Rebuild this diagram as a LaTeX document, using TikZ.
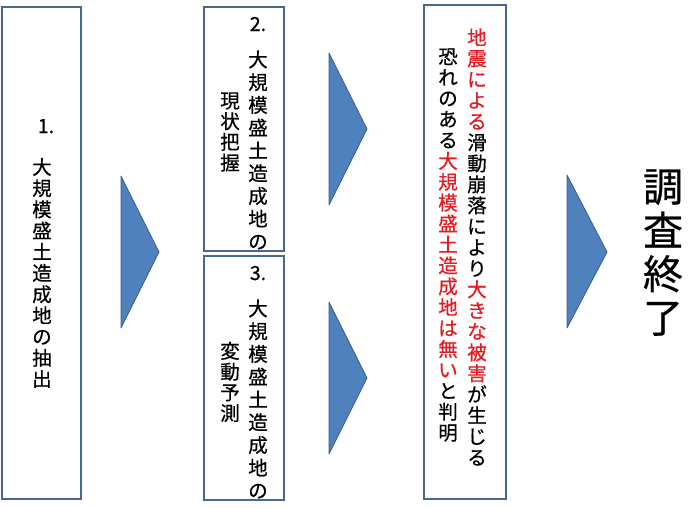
\documentclass[tikz,border=0pt]{standalone}
\usepackage{fontspec}
\setmainfont[FakeBold=0.6]{Noto Sans CJK JP}
\usetikzlibrary{positioning}
\definecolor{boxline}{RGB}{72,104,142}
\definecolor{arrowfill}{RGB}{79,129,189}
\definecolor{arrowline}{RGB}{56,93,138}
\definecolor{warnred}{RGB}{226,28,34}
\newcommand{\rd}[1]{\textcolor{warnred}{#1}}
\tikzset{
  box/.style={draw=boxline, line width=1.3pt, fill=white, inner sep=0pt},
  tri/.style={fill=arrowfill, draw=arrowline, line width=0.8pt, line join=round},
  vcol/.style={align=center, inner sep=0pt, font=\fontsize{19.5}{#1}\selectfont},
  num/.style={inner sep=0pt, anchor=base, font=\fontsize{19.5}{20}\selectfont},
  bigcol/.style={align=center, inner sep=0pt, font=\fontsize{40}{43.7}\selectfont},
}

\begin{document}
\begin{tikzpicture}[x=1pt, y=-1pt]
    \useasboundingbox (0,0) rectangle (700,507);
    \node[box, minimum width=79pt, minimum height=492pt] (box1) at (41.5,253) {};
    \node[box, minimum width=80pt, minimum height=244pt] (box2) at (244,129) {};
    \node[box, minimum width=80pt, minimum height=244pt] (box3) at (244,378) {};
    \node[box, minimum width=82pt, minimum height=494pt] (box4) at (465,252) {};

    \node[num] (n1) at (46,133) {1.};
    \node[vcol=21.2] (t1) at (42,273) {大\\規\\模\\盛\\土\\造\\成\\地\\の\\抽\\出};

    \node[num] (n2) at (258,31) {2.};
    \node[vcol=22.75] (t2a) at (258,150) {大\\規\\模\\盛\\土\\造\\成\\地\\の};
    \node[vcol=20.7] (t2b) at (230,132) {現\\状\\把\\握};

    \node[num] (n3) at (258,280) {3.};
    \node[vcol=22.75] (t3a) at (258,399) {大\\規\\模\\盛\\土\\造\\成\\地\\の};
    \node[vcol=20.7] (t3b) at (230,382) {変\\動\\予\\測};

    \node[vcol=21] (t4a) at (477,247) {\rd{地}\\\rd{震}\\\rd{に}\\\rd{よ}\\\rd{る}\\滑\\動\\崩\\落\\に\\よ\\り\\\rd{大}\\\rd{き}\\\rd{な}\\\rd{被}\\\rd{害}\\が\\生\\じ\\る};
    \node[vcol=20.9] (t4b) at (448,245) {恐\\れ\\の\\あ\\る\\\rd{大}\\\rd{規}\\\rd{模}\\\rd{盛}\\\rd{土}\\\rd{造}\\\rd{成}\\\rd{地}\\\rd{は}\\\rd{無}\\\rd{い}\\と\\判\\明};

    \node[bigcol] (end) at (663,252.5) {調\\査\\終\\了};

    \draw[tri] (121,176) -- (159,252) -- (121,328) -- cycle;
    \draw[tri] (329,53) -- (367,129) -- (329,205) -- cycle;
    \draw[tri] (329,302) -- (367,378) -- (329,454) -- cycle;
    \draw[tri] (567,175) -- (607,252) -- (567,328) -- cycle;
  \end{tikzpicture}
\end{document}
